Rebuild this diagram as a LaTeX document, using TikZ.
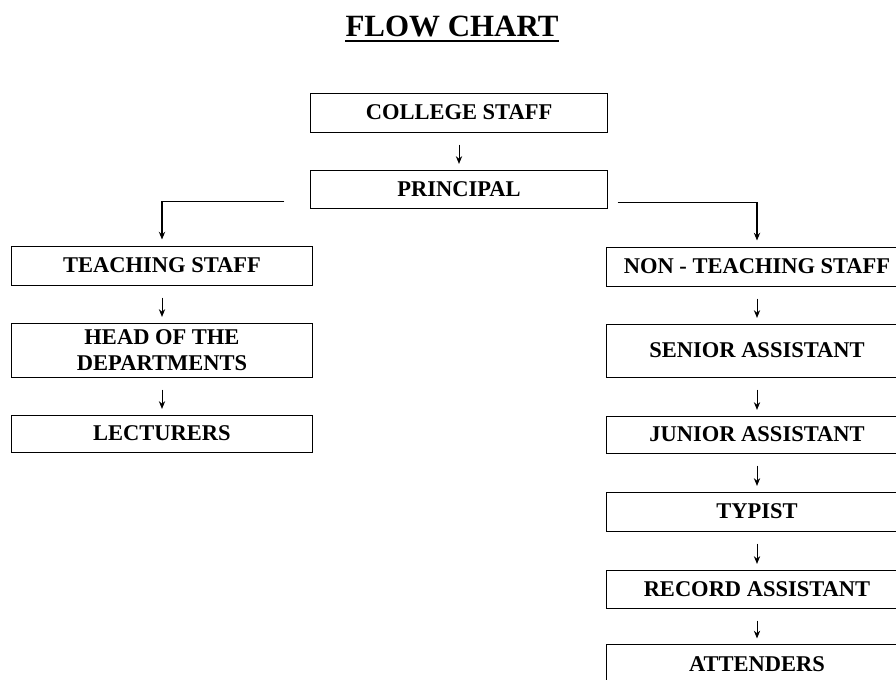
\documentclass[tikz,border=0pt]{standalone}
\usepackage{fontspec}
\setmainfont{Liberation Serif}
\usepackage{tikz}
\usetikzlibrary{arrows.meta}
\usetikzlibrary{calc}

\tikzset{
  box/.style={draw, line width=0.7pt, inner sep=0pt, minimum width=7.5cm,
    minimum height=0.975cm, align=center,
    font=\fontsize{16}{18}\selectfont\bfseries},
  link/.style={line width=0.7pt, -{Stealth[length=5.5pt,width=4.5pt]},
    shorten <=0.3cm, shorten >=0.14cm},
  branch/.style={line width=1pt, -{Stealth[length=5.5pt,width=4.5pt]},
    shorten >=0.15cm}
}

\begin{document}
\begin{tikzpicture}[x=0.025cm,y=-0.025cm]
      \path[use as bounding box, clip] (0,0) rectangle (896,679);
      \node[inner sep=0pt, anchor=base, font=\fontsize{22}{24}\selectfont\bfseries] (title) at (452,36) {FLOW CHART};
      \draw [line width=1.6pt] ([yshift=-0.13cm]title.base west) -- ([yshift=-0.13cm]title.base east);
      \node[box, minimum width=7.4cm] (college) at (459,112.5) {COLLEGE STAFF};
      \node[box, minimum width=7.4cm, minimum height=0.95cm] (principal) at (459,189) {PRINCIPAL};
      % teaching side
      \node[box] (teaching) at (162,265.5) {TEACHING STAFF};
      \node[box, minimum height=1.35cm] (heads) at (162,350) {HEAD OF THE\\DEPARTMENTS};
      \node[box, minimum height=0.925cm] (lecturers) at (162,433.5) {LECTURERS};
      % non-teaching side
      \node[box] (nonteaching) at (757,266.5) {NON - TEACHING STAFF};
      \node[box, minimum height=1.325cm] (senior) at (757,350.5) {SENIOR ASSISTANT};
      \node[box, minimum height=0.925cm] (junior) at (757,434.5) {JUNIOR ASSISTANT};
      \node[box] (typist) at (757,511.5) {TYPIST};
      \node[box, minimum height=0.95cm] (record) at (757,589) {RECORD ASSISTANT};
      \node[box] (attenders) at (757,664) {ATTENDERS};
      \draw [link] (college) -- (principal);
      \draw [branch] ($(principal.south west)+(-26,-7)$) -| (teaching);
      \draw [branch] ($(principal.south east)+(10,-6)$) -| (nonteaching);
      \draw [link] (teaching) -- (heads);
      \draw [link] (heads) -- (lecturers);
      \draw [link] (nonteaching) -- (senior);
      \draw [link] (senior) -- (junior);
      \draw [link] (junior) -- (typist);
      \draw [link] (typist) -- (record);
      \draw [link] (record) -- (attenders);
    \end{tikzpicture}
\end{document}
